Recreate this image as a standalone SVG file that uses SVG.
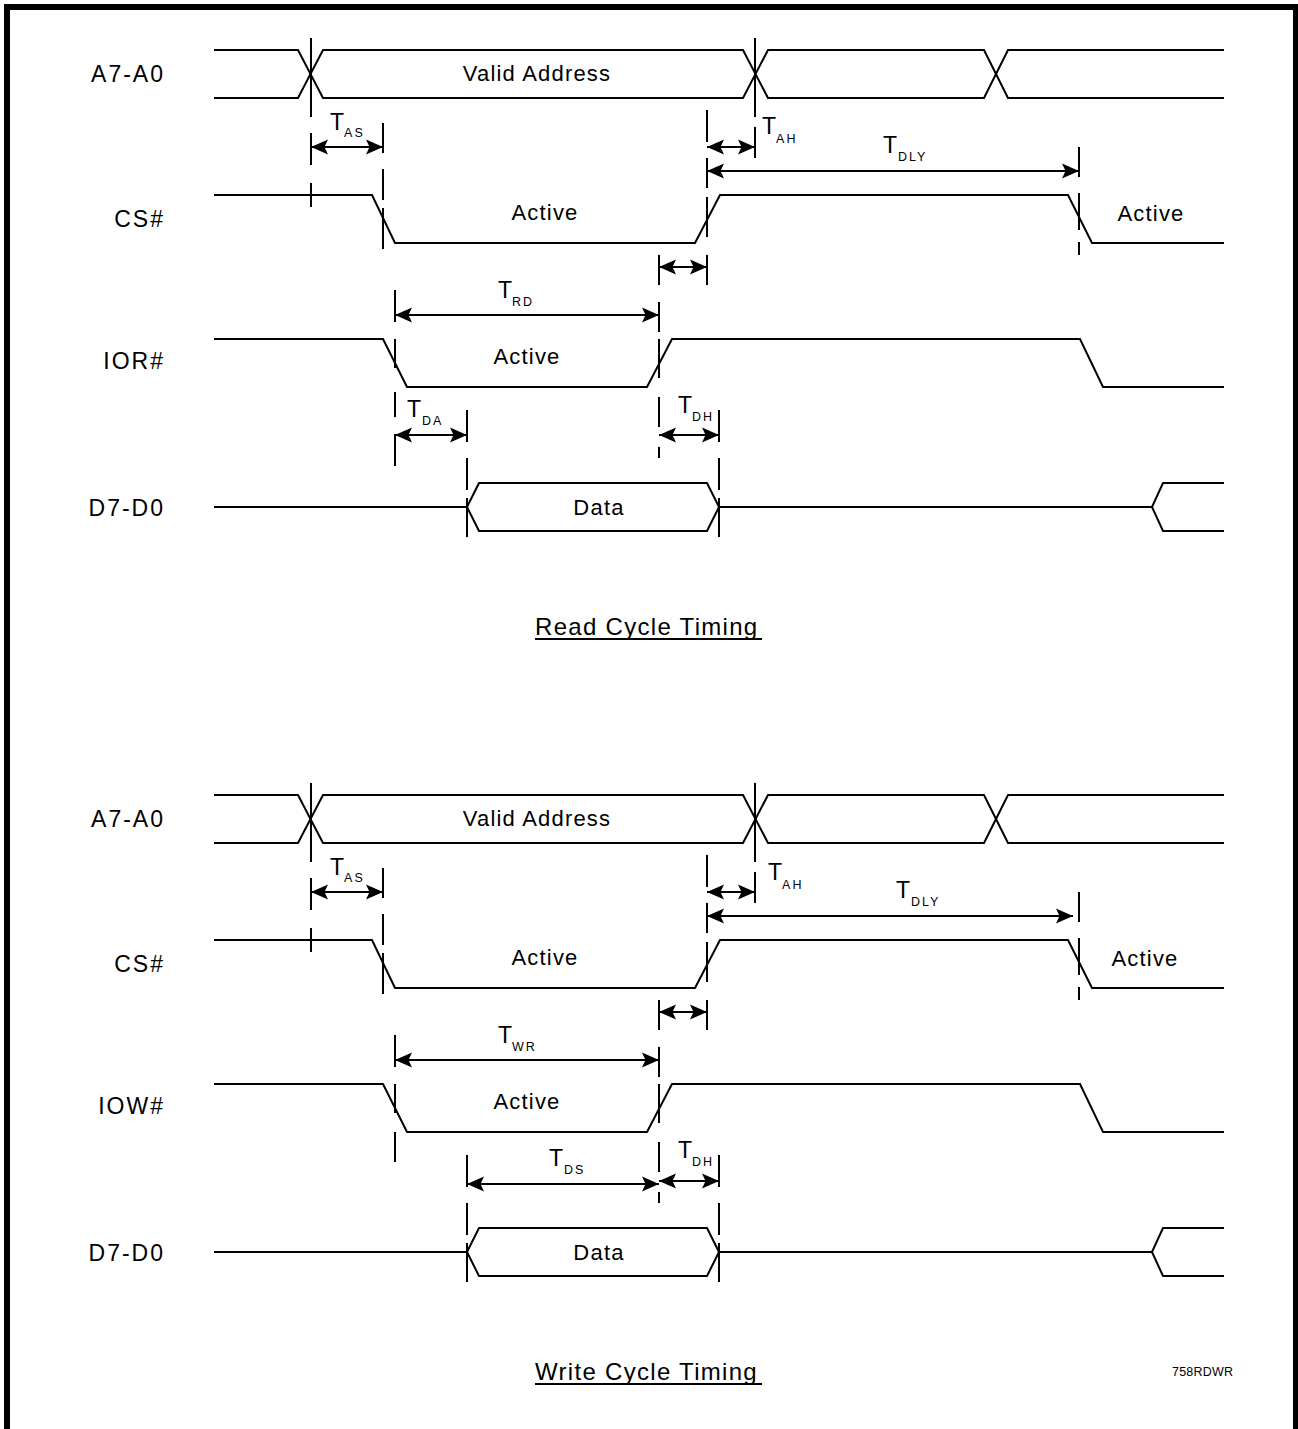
<svg xmlns="http://www.w3.org/2000/svg" width="1298" height="1429" viewBox="0 0 1298 1429">
<style>
.sig{fill:none;stroke:#000;stroke-width:2;stroke-linejoin:miter}
.tick{fill:none;stroke:#000;stroke-width:2}
.arr{fill:none;stroke:#000;stroke-width:2;marker-start:url(#ah);marker-end:url(#ah)}
.brd{fill:none;stroke:#000;stroke-width:6}
text{font-family:"Liberation Sans",Arial,sans-serif;fill:#000}
.lbl{font-size:23px;letter-spacing:2px;text-anchor:end}
.in{font-size:22px;letter-spacing:1.2px;text-anchor:middle}
.t{font-size:23px}
.sub{font-size:12.5px;letter-spacing:2px}
.ttl{font-size:24px;letter-spacing:1.3px}
.id{font-size:12.5px;letter-spacing:0.2px}
.ul{stroke:#000;stroke-width:2}
</style>
<defs>
<marker id="ah" viewBox="0 0 17 16" refX="17" refY="8" markerWidth="17" markerHeight="16" markerUnits="userSpaceOnUse" orient="auto-start-reverse">
<path d="M17,8 L0,0.5 L3.5,8 L0,15.5 Z" fill="#000"/>
</marker>
</defs>
<path class="brd" d="M7,1429 V7 H1296 V1429"/>

<!-- READ CYCLE -->
<g id="read-A7-A0">
<text class="lbl" x="165" y="82">A7-A0</text>
<path class="sig" d="M214,50 H298 L323,98 H743 L768,50 H984 L1008,98 H1224"/>
<path class="sig" d="M214,98 H298 L323,50 H743 L768,98 H984 L1008,50 H1224"/>
<text class="in" x="537" y="81">Valid Address</text>
</g>
<g id="read-CS">
<text class="lbl" x="165" y="227">CS#</text>
<path class="sig" d="M214,195 H372 L395,243 H695 L720,195 H1068 L1092,243 H1224"/>
<text class="in" x="545" y="220">Active</text>
<text class="in" x="1151" y="221">Active</text>
</g>
<g id="read-IOR">
<text class="lbl" x="165" y="369">IOR#</text>
<path class="sig" d="M214,339 H383 L407,387 H647 L672,339 H1080 L1103,387 H1224"/>
<text class="in" x="527" y="364">Active</text>
</g>
<g id="read-D7-D0">
<text class="lbl" x="165" y="516">D7-D0</text>
<path class="sig" d="M214,507 H467 L479,483 H707 L719,507 H1152 L1163,483 H1224"/>
<path class="sig" d="M467,507 L479,531 H707 L719,507 M1152,507 L1163,531 H1224"/>
<text class="in" x="599" y="515">Data</text>
</g>
<g id="read-title">
<text class="ttl" x="535" y="635">Read Cycle Timing</text>
<line class="ul" x1="535" y1="639" x2="762" y2="639"/>
</g>

<!-- WRITE CYCLE -->
<g id="write-A7-A0">
<text class="lbl" x="165" y="827">A7-A0</text>
<path class="sig" d="M214,795 H298 L323,843 H743 L768,795 H984 L1008,843 H1224"/>
<path class="sig" d="M214,843 H298 L323,795 H743 L768,843 H984 L1008,795 H1224"/>
<text class="in" x="537" y="826">Valid Address</text>
</g>
<g id="write-CS">
<text class="lbl" x="165" y="972">CS#</text>
<path class="sig" d="M214,940 H372 L395,988 H695 L720,940 H1068 L1092,988 H1224"/>
<text class="in" x="545" y="965">Active</text>
<text class="in" x="1145" y="966">Active</text>
</g>
<g id="write-IOW">
<text class="lbl" x="165" y="1114">IOW#</text>
<path class="sig" d="M214,1084 H383 L407,1132 H647 L672,1084 H1080 L1103,1132 H1224"/>
<text class="in" x="527" y="1109">Active</text>
</g>
<g id="write-D7-D0">
<text class="lbl" x="165" y="1261">D7-D0</text>
<path class="sig" d="M214,1252 H467 L479,1228 H707 L719,1252 H1152 L1163,1228 H1224"/>
<path class="sig" d="M467,1252 L479,1276 H707 L719,1252 M1152,1252 L1163,1276 H1224"/>
<text class="in" x="599" y="1260">Data</text>
</g>
<g id="write-title">
<text class="ttl" x="535" y="1380">Write Cycle Timing</text>
<line class="ul" x1="535" y1="1384" x2="762" y2="1384"/>
<text class="id" x="1172" y="1376">758RDWR</text>
</g>

<g id="connectors">
<!-- read ticks -->
<path class="tick" d="M311,38 V117 M311,133 V165 M311,183 V207
M383,123 V153 M383,169 V200 M383,208 V249
M395,290 V322 M395,339 V368 M395,392 V417 M395,434 V466
M467,410 V442 M467,458 V490 M467,498 V537
M659,255 V285 M659,302 V332 M659,339 V378 M659,397 V427 M659,447 V458
M707,110 V142 M707,158 V188 M707,197 V237 M707,255 V285
M719,410 V442 M719,458 V490 M719,498 V537
M755,38 V117 M755,127 V158
M1079,147 V177 M1079,193 V230 M1079,242 V255"/>
<!-- write ticks -->
<path class="tick" d="M311,783 V862 M311,878 V910 M311,928 V952
M383,868 V898 M383,914 V945 M383,953 V994
M395,1035 V1067 M395,1084 V1113 M395,1132 V1162
M467,1155 V1187 M467,1203 V1235 M467,1243 V1282
M659,1000 V1030 M659,1047 V1077 M659,1084 V1123 M659,1142 V1172 M659,1192 V1203
M707,855 V887 M707,903 V933 M707,942 V982 M707,1000 V1030
M719,1155 V1187 M719,1203 V1235 M719,1243 V1282
M755,783 V862 M755,872 V903
M1079,892 V922 M1079,938 V975 M1079,987 V1000"/>
<!-- read arrows -->
<line class="arr" x1="311" y1="147" x2="383" y2="147"/>
<line class="arr" x1="707" y1="147" x2="755" y2="147"/>
<line class="arr" x1="707" y1="171" x2="1079" y2="171"/>
<line class="arr" x1="659" y1="267" x2="707" y2="267"/>
<line class="arr" x1="395" y1="315" x2="659" y2="315"/>
<line class="arr" x1="395" y1="435" x2="467" y2="435"/>
<line class="arr" x1="659" y1="435" x2="719" y2="435"/>
<!-- write arrows -->
<line class="arr" x1="311" y1="892" x2="383" y2="892"/>
<line class="arr" x1="707" y1="892" x2="755" y2="892"/>
<line class="arr" x1="707" y1="916" x2="1073" y2="916"/>
<line class="arr" x1="659" y1="1012" x2="707" y2="1012"/>
<line class="arr" x1="395" y1="1060" x2="659" y2="1060"/>
<line class="arr" x1="467" y1="1184" x2="659" y2="1184"/>
<line class="arr" x1="659" y1="1181" x2="719" y2="1181"/>
</g>

<g id="timing-labels">
<text class="t" x="330" y="130">T<tspan class="sub" dx="0" dy="7">AS</tspan></text>
<text class="t" x="762" y="134">T<tspan class="sub" dx="0" dy="9">AH</tspan></text>
<text class="t" x="883" y="153">T<tspan class="sub" dx="1" dy="8">DLY</tspan></text>
<text class="t" x="498" y="298">T<tspan class="sub" dx="0" dy="8">RD</tspan></text>
<text class="t" x="407" y="417">T<tspan class="sub" dx="1" dy="8">DA</tspan></text>
<text class="t" x="678" y="413">T<tspan class="sub" dx="0" dy="8">DH</tspan></text>
<text class="t" x="330" y="875">T<tspan class="sub" dx="0" dy="7">AS</tspan></text>
<text class="t" x="768" y="880">T<tspan class="sub" dx="0" dy="9">AH</tspan></text>
<text class="t" x="896" y="898">T<tspan class="sub" dx="1" dy="8">DLY</tspan></text>
<text class="t" x="498" y="1043">T<tspan class="sub" dx="0" dy="8">WR</tspan></text>
<text class="t" x="549" y="1166">T<tspan class="sub" dx="1" dy="8">DS</tspan></text>
<text class="t" x="678" y="1158">T<tspan class="sub" dx="0" dy="8">DH</tspan></text>
</g>
</svg>
